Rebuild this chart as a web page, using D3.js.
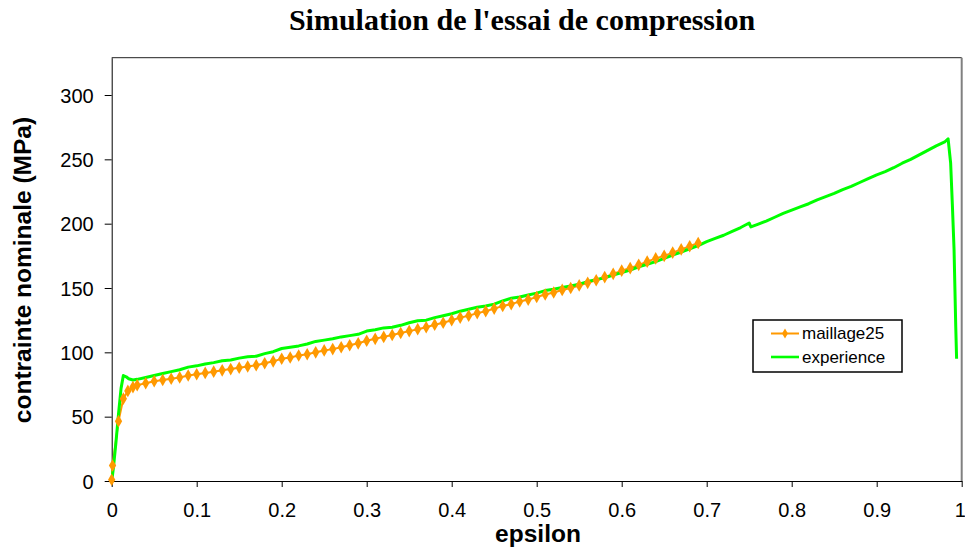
<!DOCTYPE html>
<html>
<head>
<meta charset="utf-8">
<script src="https://cdn.jsdelivr.net/npm/d3@7"></script>
<style>
  body { margin: 0; background: #fff; }
  svg { display: block; }
</style>
</head>
<body>
<svg id="chart" width="965" height="548"></svg>
<script>
// Compression test: simulated curve (maillage25) against the measured curve (experience)
const titleText = "Simulation de l'essai de compression";
const xTitle = "epsilon";
const yTitle = "contrainte nominale (MPa)";
const seriesNames = ["maillage25", "experience"];

const xTicks = [0, 0.1, 0.2, 0.3, 0.4, 0.5, 0.6, 0.7, 0.8, 0.9, 1];
const xTickLabels = ["0", "0.1", "0.2", "0.3", "0.4", "0.5", "0.6", "0.7", "0.8", "0.9", "1"];
const yTicks = [0, 50, 100, 150, 200, 250, 300];

// simulation (maillage25)
const simEps = [0, 0.001, 0.008, 0.0137, 0.019, 0.025, 0.03, 0.04, 0.05, 0.06, 0.07, 0.08, 0.09,
  0.10, 0.11, 0.12, 0.13, 0.14, 0.15, 0.16, 0.17, 0.18, 0.19,
  0.20, 0.21, 0.22, 0.23, 0.24, 0.25, 0.26, 0.27, 0.28, 0.29,
  0.30, 0.31, 0.32, 0.33, 0.34, 0.35, 0.36, 0.37, 0.38, 0.39,
  0.40, 0.41, 0.42, 0.43, 0.44, 0.45, 0.46, 0.47, 0.48, 0.49,
  0.50, 0.51, 0.52, 0.53, 0.54, 0.55, 0.56, 0.57, 0.58, 0.59,
  0.60, 0.61, 0.62, 0.63, 0.64, 0.65, 0.66, 0.67, 0.68, 0.69];
const simStress = [1, 12, 46.5, 64, 70, 73, 74.5, 76, 77.5, 78.5, 79.5, 80.5, 82,
  83, 84, 85, 86, 87, 88, 89, 90, 91.5, 93,
  95, 96, 97.5, 98.5, 100, 101.5, 102.5, 104, 105.5, 107,
  109, 110.5, 112, 113.5, 115, 116.5, 118, 119.5, 121.5, 123,
  125, 127, 128.5, 130.5, 132, 134, 136, 137.5, 139.5, 141,
  143, 145, 146.5, 148.5, 150, 152, 154, 156, 158.5, 161,
  163.5, 165.5, 168, 170.5, 173, 175, 177.5, 180, 182.5, 185];

// measurement (experience)
const expEps = [0, 0.002, 0.005, 0.008, 0.011, 0.0137, 0.017, 0.02, 0.025, 0.03, 0.04, 0.05, 0.06, 0.07, 0.08, 0.09,
  0.10, 0.11, 0.12, 0.13, 0.14, 0.15, 0.16, 0.17, 0.18, 0.19,
  0.20, 0.21, 0.22, 0.23, 0.24, 0.25, 0.26, 0.27, 0.28, 0.29,
  0.30, 0.31, 0.32, 0.33, 0.34, 0.35, 0.36, 0.37, 0.38, 0.39,
  0.40, 0.41, 0.42, 0.43, 0.44, 0.45, 0.46, 0.47, 0.48, 0.49,
  0.50, 0.51, 0.52, 0.53, 0.54, 0.55, 0.56, 0.57, 0.58, 0.59,
  0.60, 0.61, 0.62, 0.63, 0.64, 0.65, 0.66, 0.67, 0.68, 0.69,
  0.70, 0.71, 0.72, 0.73, 0.74, 0.75, 0.752, 0.76, 0.77, 0.78, 0.79,
  0.80, 0.81, 0.82, 0.83, 0.84, 0.85, 0.86, 0.87, 0.88, 0.89,
  0.90, 0.91, 0.92, 0.93, 0.94, 0.95, 0.96, 0.97, 0.98, 0.984,
  0.987, 0.989, 0.991, 0.992, 0.993, 0.994];
const expStress = [0, 10, 30, 52, 72, 82, 81, 79.5, 78.5, 79, 80.5, 82, 83.5, 85, 86.5, 88.5,
  89.5, 91, 92, 93.5, 94, 95.5, 96.5, 97, 99, 100.5,
  103, 104, 105, 106.5, 108.5, 109.5, 110.5, 112, 113, 114,
  116.5, 117.5, 119, 119.5, 121, 123, 124.5, 125, 127, 128.5,
  130, 132, 133.5, 135, 136, 137.5, 140, 142, 143, 144.5,
  146, 148, 149, 150.5, 151.5, 153, 155, 156.5, 158, 160,
  162, 164, 166.5, 168.5, 170.5, 173, 175.5, 178, 180.5, 183,
  186, 188.5, 191, 194, 197, 200.5, 197.5, 199.5, 202, 205, 208,
  210.5, 213, 215.5, 218.5, 221, 223.5, 226.5, 229, 232, 235,
  238, 240.5, 243.5, 247, 250, 253.5, 257, 260.5, 263.5, 266,
  247, 215, 180, 150, 120, 95];

const simData = simEps.map((e, i) => ({ e, s: simStress[i] }));
const expData = expEps.map((e, i) => ({ e, s: expStress[i] }));

const svg = d3.select("#chart");
const x = d3.scaleLinear().domain([0, 1]).range([111.7, 961.7]);
const y = d3.scaleLinear().domain([0, 329]).range([481, 57.7]);

const sans = "'Liberation Sans', Arial, sans-serif";

// title
svg.append("text")
  .attr("x", 522).attr("y", 30)
  .attr("text-anchor", "middle")
  .style("font-family", "'Liberation Serif', 'Times New Roman', serif")
  .style("font-weight", "bold")
  .style("font-size", "30px")
  .text(titleText);

// plot frame (top and right edges)
svg.append("line")
  .attr("x1", x(0)).attr("x2", x(1))
  .attr("y1", y(329)).attr("y2", y(329))
  .attr("stroke", "#222").attr("stroke-width", 1);
svg.append("line")
  .attr("x1", x(1)).attr("x2", x(1))
  .attr("y1", y(329)).attr("y2", y(0))
  .attr("stroke", "#808080").attr("stroke-width", 2);

// axes
const xAxis = svg.append("g")
  .attr("transform", `translate(0,${y(0)})`)
  .call(d3.axisBottom(x).tickValues(xTicks)
    .tickFormat((d, i) => xTickLabels[i]).tickSize(6).tickSizeOuter(0));
xAxis.select(".domain").attr("stroke", "#000");
xAxis.selectAll(".tick line").attr("stroke", "#000");
xAxis.selectAll(".tick text")
  .attr("y", 36).attr("dy", 0)
  .style("font-family", sans).style("font-size", "20px").attr("fill", "#000");
// keep the last label inside the page
xAxis.selectAll(".tick text").filter(d => d === 1).attr("dx", -2);

const yAxis = svg.append("g")
  .attr("transform", `translate(${x(0)},0)`)
  .call(d3.axisLeft(y).tickValues(yTicks).tickSize(7).tickSizeOuter(0));
yAxis.select(".domain").attr("stroke", "#000");
yAxis.selectAll(".tick line").attr("stroke", "#000");
yAxis.selectAll(".tick text")
  .attr("x", -18).attr("dy", "0.36em")
  .style("font-family", sans).style("font-size", "20px").attr("fill", "#000");

// axis titles
svg.append("text")
  .attr("x", 538).attr("y", 542)
  .attr("text-anchor", "middle")
  .style("font-family", sans).style("font-weight", "bold").style("font-size", "24.5px")
  .text(xTitle);
svg.append("text")
  .attr("transform", "translate(31,270) rotate(-90)")
  .attr("text-anchor", "middle")
  .style("font-family", sans).style("font-weight", "bold").style("font-size", "24.5px")
  .text(yTitle);

const line = d3.line().x(d => x(d.e)).y(d => y(d.s));
const orange = "#FF9900", green = "#00FF00";
const diamond = d3.symbol().type(d3.symbolDiamond).size(46);

// curves
svg.append("path").datum(simData)
  .attr("d", line).attr("fill", "none")
  .attr("stroke", orange).attr("stroke-width", 2);
svg.append("path").datum(expData)
  .attr("d", line).attr("fill", "none")
  .attr("stroke", green).attr("stroke-width", 3).attr("stroke-linejoin", "round");
svg.append("g").selectAll("path").data(simData).join("path")
  .attr("d", diamond)
  .attr("transform", d => `translate(${x(d.e)},${y(d.s)})`)
  .attr("fill", orange);

// legend
const lg = svg.append("g");
lg.append("rect")
  .attr("x", 753).attr("y", 320).attr("width", 149).attr("height", 52)
  .attr("fill", "#fff").attr("stroke", "#000").attr("stroke-width", 1.5);
const rows = [
  { name: seriesNames[0], color: orange, marker: true, cy: 333.5 },
  { name: seriesNames[1], color: green, marker: false, cy: 357 }
];
rows.forEach(r => {
  lg.append("line")
    .attr("x1", 771).attr("x2", 799).attr("y1", r.cy).attr("y2", r.cy)
    .attr("stroke", r.color).attr("stroke-width", r.marker ? 2 : 2.6);
  if (r.marker) {
    lg.append("path").attr("d", d3.symbol().type(d3.symbolDiamond).size(30))
      .attr("transform", `translate(785,${r.cy})`).attr("fill", r.color);
  }
  lg.append("text")
    .attr("x", 802).attr("y", r.cy).attr("dy", "0.35em")
    .style("font-family", sans).style("font-size", "17px").attr("fill", "#000")
    .text(r.name);
});
</script>
</body>
</html>
